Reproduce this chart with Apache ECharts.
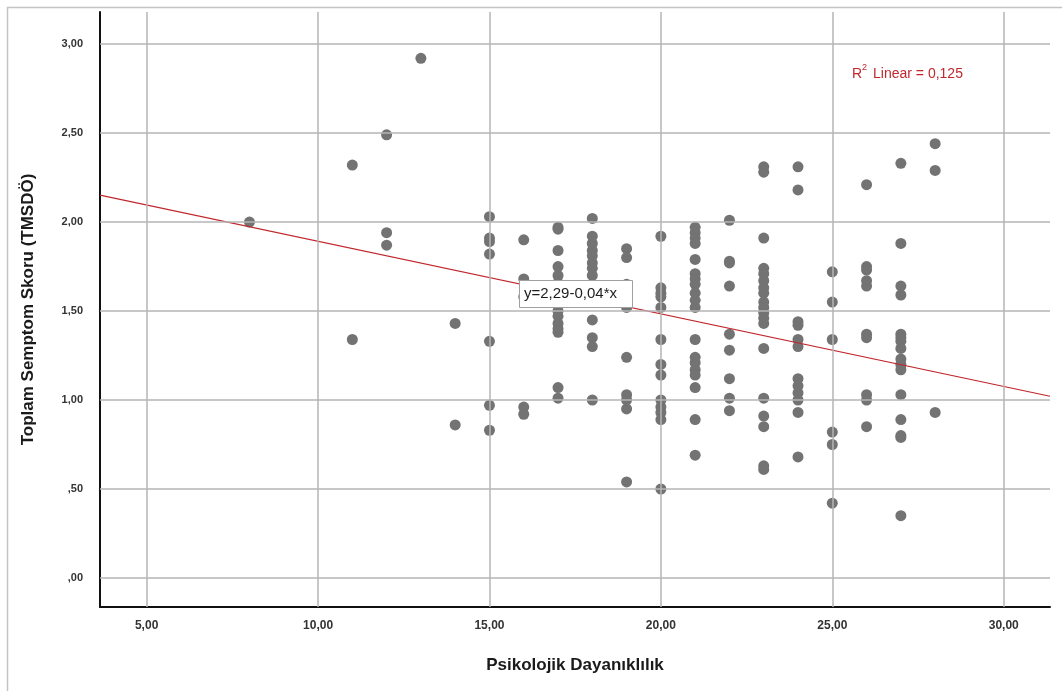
<!DOCTYPE html>
<html><head><meta charset="utf-8">
<script src="https://cdn.jsdelivr.net/npm/echarts@6/dist/echarts.min.js"></script>
<style>html,body{margin:0;padding:0;background:#fff}#c{width:1062px;height:691px}</style>
</head><body><div id="c"></div>
<script>
// Psikolojik Dayanıklılık (x) values, each with its column of TMSDÖ scores
const xGroups = [8, 11, 12, 13, 14, 15, 16, 17, 18, 19, 20, 21, 22, 23, 24, 25, 26, 27, 28];
const yGroups = [
  [2.00],
  [2.32, 1.34],
  [2.49, 1.94, 1.87],
  [2.92],
  [1.43, 0.86],
  [2.03, 1.91, 1.89, 1.82, 1.33, 0.97, 0.83],
  [1.90, 1.68, 1.58, 0.96, 0.92],
  [1.97, 1.96, 1.84, 1.75, 1.70, 1.66, 1.60, 1.55, 1.50, 1.47, 1.43, 1.40, 1.38, 1.07, 1.01],
  [2.02, 1.92, 1.88, 1.84, 1.81, 1.77, 1.74, 1.70, 1.45, 1.35, 1.30, 1.00],
  [1.85, 1.80, 1.65, 1.52, 1.24, 1.03, 1.00, 0.95, 0.54],
  [1.92, 1.63, 1.60, 1.58, 1.52, 1.34, 1.20, 1.14, 1.00, 0.96, 0.93, 0.89, 0.50],
  [1.97, 1.94, 1.91, 1.88, 1.79, 1.71, 1.68, 1.65, 1.60, 1.56, 1.52, 1.34, 1.24, 1.21, 1.17, 1.14, 1.07, 0.89, 0.69],
  [2.01, 1.78, 1.77, 1.64, 1.37, 1.28, 1.12, 1.01, 0.94],
  [2.31, 2.28, 1.91, 1.74, 1.71, 1.67, 1.63, 1.60, 1.55, 1.52, 1.49, 1.46, 1.43, 1.29, 1.01, 0.91, 0.85, 0.63, 0.61],
  [2.31, 2.18, 1.44, 1.42, 1.34, 1.30, 1.12, 1.08, 1.04, 1.00, 0.93, 0.68],
  [1.72, 1.55, 1.34, 0.82, 0.75, 0.42],
  [2.21, 1.75, 1.73, 1.67, 1.64, 1.37, 1.35, 1.03, 1.00, 0.85],
  [2.33, 1.88, 1.64, 1.59, 1.37, 1.35, 1.33, 1.29, 1.23, 1.20, 1.17, 1.03, 0.89, 0.80, 0.79, 0.35],
  [2.44, 2.29, 0.93]
];
const xTicks = [5, 10, 15, 20, 25, 30];
const yTicks = [0, 0.5, 1, 1.5, 2, 2.5, 3];
const xRange = [3.64, 31.35];
const yRange = [-0.163, 3.18];
const fitIntercept = 2.30;
const fitSlope = -0.0408;
const fitLabel = 'y=2,29-0,04*x';
const r2Label = '0,125';

const points = [];
xGroups.forEach((x, i) => yGroups[i].forEach(y => points.push([x, y])));
const fitLine = [xRange[0], xRange[1]].map(x => [x, fitIntercept + fitSlope * x]);

const fmt = v => { let s = v.toFixed(2).replace('.', ','); if (s.startsWith('0,')) s = s.slice(1); return s; };
const FONT = '"Liberation Sans", Arial, sans-serif';
const gridColor = '#b4b4b4';

const chart = echarts.init(document.getElementById('c'), null, {renderer: 'canvas'});
chart.setOption({
  animation: false,
  backgroundColor: '#fff',
  textStyle: {fontFamily: FONT},
  grid: {left: 100, right: 12, top: 12, bottom: 84, containLabel: false},
  xAxis: {
    type: 'value', min: xRange[0], max: xRange[1],
    name: 'Psikolojik Dayanıklılık', nameLocation: 'middle', nameGap: 50,
    nameTextStyle: {fontFamily: FONT, fontSize: 17, fontWeight: 'bold', color: '#1a1a1a'},
    axisLine: {show: true, onZero: false, lineStyle: {color: '#111', width: 2}},
    axisTick: {show: false},
    splitLine: {show: false},
    axisLabel: {customValues: xTicks, formatter: fmt, margin: 13, fontFamily: FONT, fontSize: 12, fontWeight: 'bold', color: '#333'}
  },
  yAxis: {
    type: 'value', min: yRange[0], max: yRange[1],
    name: 'Toplam Semptom Skoru (TMSDÖ)', nameLocation: 'middle', nameGap: 63, nameRotate: 90,
    nameTextStyle: {fontFamily: FONT, fontSize: 17, fontWeight: 'bold', color: '#1a1a1a'},
    axisLine: {show: true, onZero: false, lineStyle: {color: '#111', width: 2}},
    axisTick: {show: false},
    splitLine: {show: false},
    axisLabel: {customValues: yTicks, formatter: fmt, margin: 17, fontFamily: FONT, fontSize: 11, fontWeight: 'bold', color: '#333'}
  },
  series: [
    {
      type: 'line', data: [], silent: true, z: 1,
      markLine: {
        silent: true, symbol: ['none', 'none'], animation: false,
        label: {show: false},
        lineStyle: {color: gridColor, width: 1.5, type: 'solid'},
        emphasis: {disabled: true},
        data: xTicks.map(v => ({xAxis: v})).concat(yTicks.map(v => ({yAxis: v})))
      }
    },
    {
      type: 'scatter', data: points, symbol: 'circle', symbolSize: 11, z: 3,
      itemStyle: {color: '#737373', opacity: 1}
    },
    {
      type: 'line', data: fitLine, symbol: 'none', z: 4, silent: true,
      lineStyle: {color: '#c1272d', width: 1.2}
    }
  ],
  graphic: [
    {type: 'rect', left: 5, top: 5, shape: {width: 1100, height: 720}, silent: true,
     style: {fill: 'none', stroke: '#c4c4c4', lineWidth: 1.5}},
    {type: 'rect', left: 519, top: 280, z: 100, zlevel: 1, shape: {width: 113, height: 27},
     style: {fill: '#fff', stroke: '#a0a0a0', lineWidth: 1}},
    {type: 'text', left: 524, top: 286, z: 101, zlevel: 1,
     style: {text: fitLabel, font: '15px ' + FONT, fill: '#1e1e1e'}},
    {type: 'text', left: 852, top: 63, z: 10, style: {
      text: '{a|R}{s|2}{a| Linear = ' + r2Label + '}',
      rich: {
        a: {fontFamily: FONT, fontSize: 14, fill: '#c1272d', verticalAlign: 'bottom', lineHeight: 18},
        s: {fontFamily: FONT, fontSize: 9, fill: '#c1272d', verticalAlign: 'top', lineHeight: 18, padding: [0, 2, 7, 0]}
      }
    }}
  ]
});
</script>
</body></html>
